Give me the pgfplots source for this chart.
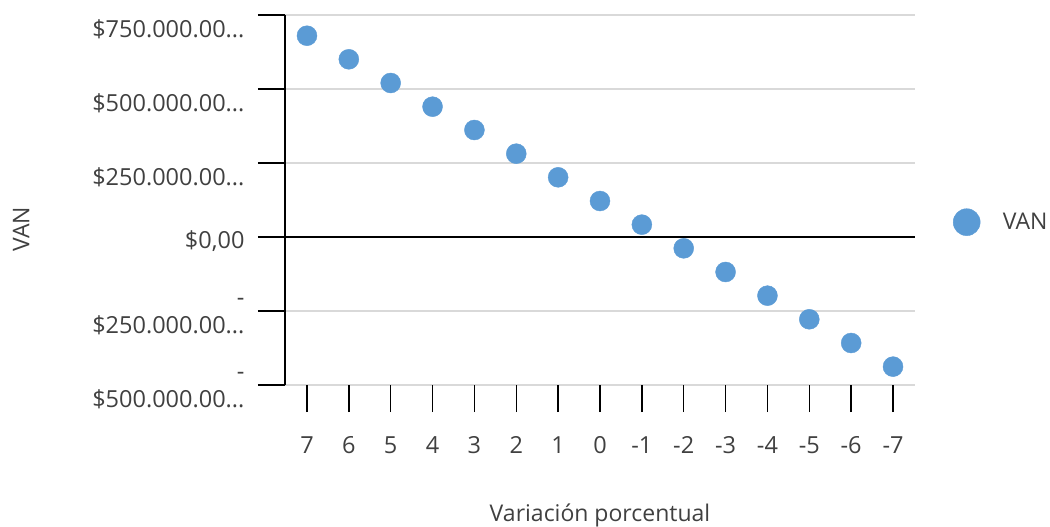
\documentclass[border=0pt]{standalone}
\usepackage{fontspec}
\setmainfont{Open Sans}
\usepackage{pgfplots}
\pgfplotsset{compat=1.18}
\definecolor{ptc}{HTML}{5B9BD5}
\definecolor{txt}{HTML}{404040}
\definecolor{grd}{HTML}{D9D9D9}
\newcommand{\el}{.\kern0pt.\kern0pt.}
\begin{document}
\begin{tikzpicture}
\useasboundingbox (-285pt,-142pt) rectangle (765pt,385pt);
\begin{axis}[
  at={(0pt,0pt)}, anchor=south west,
  scale only axis, width=630pt, height=370pt,
  xmin=-0.525, xmax=14.525, ymin=-500000, ymax=750000,
  scaled y ticks=false,
  axis lines*=left,
  x axis line style={draw=none},
  y axis line style={black, line width=1.4pt},
  xtick={0,1,2,3,4,5,6,7,8,9,10,11,12,13,14},
  xticklabels={7,6,5,4,3,2,1,0,-1,-2,-3,-4,-5,-6,-7},
  ytick={-500000,-250000,0,250000,500000,750000},
  yticklabels={{-\\\$500.000.00\el},{-\\\$250.000.00\el},{\raisebox{6pt}{\$0,00}},{\phantom{-}\\\$250.000.00\el},{\phantom{-}\\\$500.000.00\el},{\phantom{-}\\\$750.000.00\el}},
  tick align=outside,
  major tick length=27pt,
  every tick/.style={black, line width=1.4pt},
  ymajorgrids,
  grid style={grd, line width=1.4pt},
  ticklabel style={font=\fontsize{23.5}{28}\selectfont, text=txt},
  yticklabel style={align=right, anchor=east, xshift=-10pt, yshift=-6pt},
  xticklabel style={anchor=center, yshift=-33pt},
  xlabel={Variación porcentual},
  ylabel={VAN},
  label style={font=\fontsize{23}{28}\selectfont, text=txt},
  xlabel style={at={(axis description cs:0.5,-0.3676)}, anchor=base},
  ylabel style={at={(axis description cs:-0.419,0.4216)}, anchor=center},
  legend style={at={(axis description cs:1.06,0.44)}, anchor=west, draw=none, fill=none,
    font=\fontsize{23}{28}\selectfont, text=txt, inner sep=0pt},
  legend image code/.code={\fill[ptc] (0pt,0pt) circle (13.5pt); \path (34pt,0pt);},
  clip=false,
]
\addplot[black, line width=1.4pt, forget plot] coordinates {(-0.525,0) (14.525,0)};
\addplot[only marks, mark=*, mark size=10pt, ptc, mark options={fill=ptc, draw=ptc}] coordinates {
(0,680000) (1,600300) (2,520270) (3,440200) (4,361500) (5,281500) (6,201600) (7,121600)
(8,41700) (9,-38300) (10,-118200) (11,-198200) (12,-278000) (13,-358100) (14,-438000)
};
\addlegendentry{VAN}
\end{axis}
\end{tikzpicture}
\end{document}
